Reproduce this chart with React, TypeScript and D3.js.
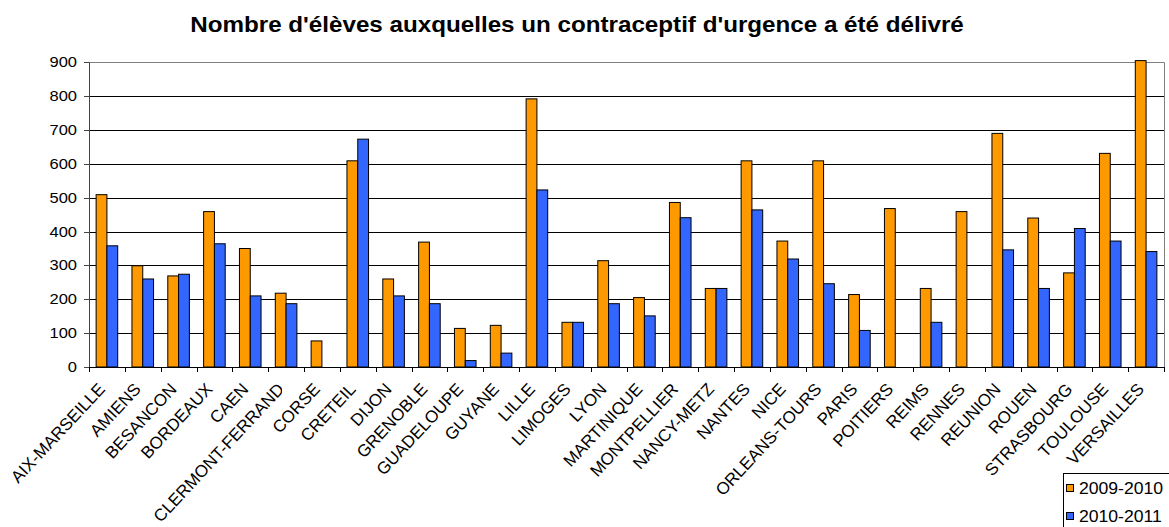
import React from "react";
import * as d3 from "d3";

const categories = [
  "AIX-MARSEILLE", "AMIENS", "BESANCON", "BORDEAUX", "CAEN", "CLERMONT-FERRAND",
  "CORSE", "CRETEIL", "DIJON", "GRENOBLE", "GUADELOUPE", "GUYANE", "LILLE",
  "LIMOGES", "LYON", "MARTINIQUE", "MONTPELLIER", "NANCY-METZ", "NANTES", "NICE",
  "ORLEANS-TOURS", "PARIS", "POITIERS", "REIMS", "RENNES", "REUNION", "ROUEN",
  "STRASBOURG", "TOULOUSE", "VERSAILLES",
];
const series2009 = [
  509, 299, 269, 459, 350, 218, 77, 609, 260, 369, 114, 123, 792, 132, 314, 205,
  486, 232, 609, 372, 609, 214, 468, 232, 459, 690, 440, 278, 631, 905,
];
const series2010 = [
  358, 260, 274, 364, 210, 187, 0, 673, 210, 187, 19, 41, 523, 132, 187, 151,
  441, 232, 464, 319, 246, 108, 0, 132, 0, 346, 232, 409, 372, 341,
];
const seriesNames = ["2009-2010", "2010-2011"];
const seriesColors = ["#FF9900", "#3366FF"];
const yTicks = [0, 100, 200, 300, 400, 500, 600, 700, 800, 900];
const title = "Nombre d'élèves auxquelles un contraceptif d'urgence a été délivré";

const W = 1169, H = 527;
const left = 89, right = 1164, top = 62.3, bottom = 367;
const SX = 1.1;

export default function App() {
  const x = d3.scaleBand<string>().domain(categories).range([left, right]).paddingInner(0).paddingOuter(0);
  const x1 = d3.scaleBand<string>().domain(seriesNames).range([0, x.bandwidth()]).paddingInner(0).paddingOuter(0.66);
  const y = d3.scaleLinear().domain([0, 900]).range([bottom, top]);
  const data = [series2009, series2010];
  const font = "Arial, 'Liberation Sans', sans-serif";
  const labelX = (c: string) => (x(c) as number) + x.bandwidth() / 2 - 1;
  const labelY = 390;

  return (
    <svg width={W} height={H} style={{ position: "absolute", left: 0, top: 0, background: "#fff" }} fontFamily={font}>
      <defs>
        <clipPath id="clipLabel" clipPathUnits="userSpaceOnUse">
          <rect x={0} y={360} width={labelX("CLERMONT-FERRAND") - 3} height={167} />
        </clipPath>
      </defs>
      <text transform={`translate(577,32) scale(${SX},1)`} textAnchor="middle" fontWeight="bold" fontSize={22} fill="#000">{title}</text>
      {/* gridlines */}
      {yTicks.filter(t => t > 0 && t < 900).map(t => (
        <line key={t} x1={left} x2={right} y1={Math.round(y(t)) + 0.5} y2={Math.round(y(t)) + 0.5} stroke="#000" strokeWidth={1} />
      ))}
      {/* plot border top/right */}
      <line x1={left} x2={right} y1={Math.round(y(900)) + 0.5} y2={Math.round(y(900)) + 0.5} stroke="#808080" />
      <line x1={right + 0.5} x2={right + 0.5} y1={y(900)} y2={bottom} stroke="#808080" />
      {/* bars */}
      {categories.map((c, i) => (
        <g key={c}>
          {data.map((s, k) => s[i] > 0 ? (
            <rect key={k} x={(x(c) as number) + (x1(seriesNames[k]) as number)} y={y(s[i])}
              width={x1.bandwidth()} height={bottom - y(s[i])}
              fill={seriesColors[k]} stroke="#000" strokeWidth={1} />
          ) : null)}
        </g>
      ))}
      {/* y axis */}
      <line x1={left + 0.5} x2={left + 0.5} y1={y(900)} y2={bottom + 5} stroke="#444" />
      {yTicks.map(t => (
        <g key={t}>
          <line x1={left - 5} x2={left} y1={Math.round(y(t)) + 0.5} y2={Math.round(y(t)) + 0.5} stroke="#444" />
          <text transform={`translate(77,${y(t) + 5}) scale(${SX},1)`} textAnchor="end" fontSize={15} fill="#000">{t}</text>
        </g>
      ))}
      {/* x axis */}
      <line x1={left} x2={right} y1={bottom + 0.5} y2={bottom + 0.5} stroke="#000" />
      {categories.map((c) => (
        <line key={"t" + c} x1={Math.round(x(c) as number) + 0.5} x2={Math.round(x(c) as number) + 0.5} y1={bottom} y2={bottom + 5} stroke="#000" />
      ))}
      <line x1={right + 0.5} x2={right + 0.5} y1={bottom} y2={bottom + 5} stroke="#000" />
      {categories.map(c => (
        <g key={"l" + c} clipPath={c === "CLERMONT-FERRAND" ? "url(#clipLabel)" : undefined}>
          <text transform={`translate(${labelX(c)},${labelY}) rotate(-47)`} textAnchor="end" fontSize={17} fill="#000">{c}</text>
        </g>
      ))}
      {/* legend */}
      <rect x={1063.5} y={473.5} width={110} height={60} fill="#fff" stroke="#000" />
      {seriesNames.map((n, k) => (
        <g key={n}>
          <rect x={1066.5} y={484.5 + k * 28} width={7} height={7} fill={seriesColors[k]} stroke="#000" />
          <text transform={`translate(1079,${494 + k * 28}) scale(${SX},1)`} fontSize={16} fill="#000">{n}</text>
        </g>
      ))}
    </svg>
  );
}
